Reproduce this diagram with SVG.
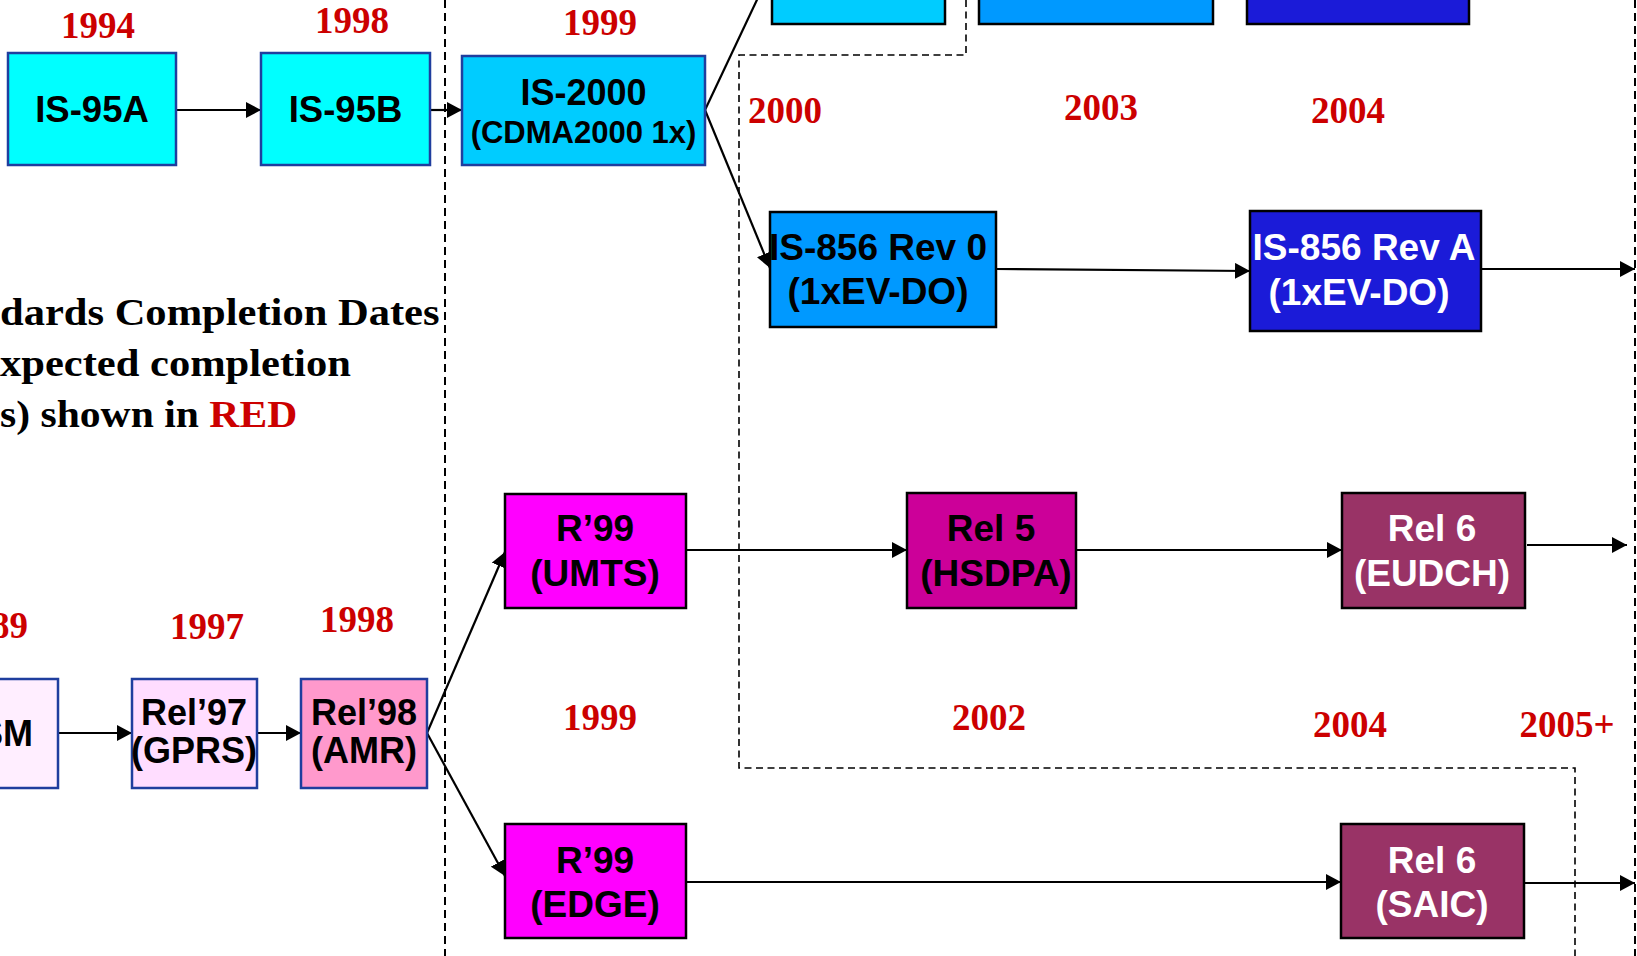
<svg xmlns="http://www.w3.org/2000/svg" width="1637" height="956" viewBox="0 0 1637 956">
<defs>
<style>
.bx{stroke:#000;stroke-width:2.5}
.bb{stroke:#1F3E9E;stroke-width:2.5}
.t{font-family:"Liberation Sans",Arial,sans-serif;font-weight:bold;text-anchor:middle;fill:#000}
.w{fill:#fff}
.yr{font-family:"Liberation Serif","Times New Roman",serif;font-weight:bold;font-size:37px;fill:#CC0000;text-anchor:middle}
.lg{font-family:"Liberation Serif","Times New Roman",serif;font-weight:bold;font-size:37px;fill:#000}
.c{stroke:#000;stroke-width:2.2;fill:none}
.ca{stroke:#000;stroke-width:2.2;fill:none;marker-end:url(#ah)}
.d{stroke:#000;stroke-width:2;fill:none;stroke-dasharray:8 5}
.d2{stroke:#000;stroke-width:1.6;fill:none;stroke-dasharray:7 4.5}
</style>
<marker id="ah" markerUnits="userSpaceOnUse" markerWidth="15" markerHeight="16" refX="15" refY="8" orient="auto" viewBox="0 0 15 16">
<path d="M0,0 L15,8 L0,16 z" fill="#000"/>
</marker>
</defs>
<rect width="1637" height="956" fill="#fff"/>

<g id="dividers">
<path class="d" d="M445,0 V956"/>
<path class="d2" d="M966,0 V55 H739 V768 H1575 V956"/>
<path class="d" d="M1635,0 V956" stroke-dasharray="6 4"/>
</g>

<g id="legend">
<text class="lg" x="0" y="325" transform="scale(1.15,1)">dards Completion Dates</text>
<text class="lg" x="0" y="376" transform="scale(1.15,1)">xpected completion</text>
<text class="lg" x="0" y="427" transform="scale(1.125,1)">s) shown in <tspan fill="#CC0000">RED</tspan></text>
</g>

<g id="years">
<text class="yr" x="98" y="38">1994</text>
<text class="yr" x="352" y="33">1998</text>
<text class="yr" x="600" y="35">1999</text>
<text class="yr" x="785" y="123">2000</text>
<text class="yr" x="1101" y="120">2003</text>
<text class="yr" x="1348" y="123">2004</text>
<text class="yr" x="28" y="638" style="text-anchor:end">89</text>
<text class="yr" x="207" y="639">1997</text>
<text class="yr" x="357" y="632">1998</text>
<text class="yr" x="600" y="730">1999</text>
<text class="yr" x="989" y="730">2002</text>
<text class="yr" x="1350" y="737">2004</text>
<text class="yr" x="1567" y="737">2005+</text>
</g>

<g id="connectors">
<path class="ca" d="M176,110 L261,110"/>
<path class="ca" d="M430,110 L462,110"/>
<path class="ca" d="M705,110 L772,-32"/>
<path class="ca" d="M705,110 L770,268"/>
<path class="ca" d="M996,269 L1250,271"/>
<path class="ca" d="M1481,269 L1635,269"/>
<path class="ca" d="M686,550 L907,550"/>
<path class="ca" d="M1076,550 L1342,550"/>
<path class="ca" d="M1527,545 L1627,545"/>
<path class="ca" d="M58,733 L132,733"/>
<path class="ca" d="M257,733 L301,733"/>
<path class="ca" d="M427,733 L505,552"/>
<path class="ca" d="M427,733 L505,876"/>
<path class="ca" d="M686,882 L1341,882"/>
<path class="ca" d="M1524,883 L1635,883"/>
</g>

<g id="top-box-1"><rect class="bx" x="772" y="-60" width="173" height="84" fill="#00CCFF"/></g>
<g id="top-box-2"><rect class="bx" x="979" y="-60" width="234" height="84" fill="#0099FF"/></g>
<g id="top-box-3"><rect class="bx" x="1247" y="-60" width="222" height="84" fill="#1B1BD8"/></g>

<g id="is95a"><rect class="bb" x="8" y="53" width="168" height="112" fill="#00FFFF"/>
<text class="t" x="92" y="122" font-size="36.5">IS-95A</text></g>

<g id="is95b"><rect class="bb" x="261" y="53" width="169" height="112" fill="#00FFFF"/>
<text class="t" x="345.5" y="122" font-size="36.5">IS-95B</text></g>

<g id="is2000"><rect class="bb" x="462" y="56" width="243" height="109" fill="#00CCFF"/>
<text class="t" x="583.5" y="105" font-size="36">IS-2000</text>
<text class="t" x="583.5" y="143" font-size="31">(CDMA2000 1x)</text></g>

<g id="is856-rev0"><rect class="bx" x="770" y="212" width="226" height="115" fill="#0099FF"/>
<text class="t" x="878" y="260" font-size="37">IS-856 Rev 0</text>
<text class="t" x="878" y="304" font-size="37">(1xEV-DO)</text></g>

<g id="is856-revA"><rect class="bx" x="1250" y="211" width="231" height="120" fill="#1B1BD8"/>
<text class="t w" x="1364" y="260" font-size="37">IS-856 Rev A</text>
<text class="t w" x="1359" y="305" font-size="37">(1xEV-DO)</text></g>

<g id="r99-umts"><rect class="bx" x="505" y="494" width="181" height="114" fill="#FF00FF"/>
<text class="t" x="595" y="541" font-size="37">R’99</text>
<text class="t" x="595" y="586" font-size="37">(UMTS)</text></g>

<g id="rel5"><rect class="bx" x="907" y="493" width="169" height="115" fill="#CC0099"/>
<text class="t" x="991" y="541" font-size="37">Rel 5</text>
<text class="t" x="996" y="586" font-size="37">(HSDPA)</text></g>

<g id="rel6-eudch"><rect class="bx" x="1342" y="493" width="183" height="115" fill="#993366"/>
<text class="t w" x="1432" y="541" font-size="37">Rel 6</text>
<text class="t w" x="1432" y="586" font-size="37">(EUDCH)</text></g>

<g id="gsm"><rect class="bb" x="-10" y="679" width="68" height="109" fill="#FFEEFF"/>
<text class="t" x="-21" y="746" font-size="36" style="text-anchor:start">SM</text></g>

<g id="rel97"><rect class="bb" x="132" y="679" width="125" height="109" fill="#FFDDFF"/>
<text class="t" x="194" y="725" font-size="36">Rel’97</text>
<text class="t" x="194" y="763" font-size="36">(GPRS)</text></g>

<g id="rel98"><rect class="bb" x="301" y="679" width="126" height="109" fill="#FF99CC"/>
<text class="t" x="364" y="725" font-size="36">Rel’98</text>
<text class="t" x="364" y="763" font-size="36">(AMR)</text></g>

<g id="r99-edge"><rect class="bx" x="505" y="824" width="181" height="114" fill="#FF00FF"/>
<text class="t" x="595" y="873" font-size="37">R’99</text>
<text class="t" x="595" y="917" font-size="37">(EDGE)</text></g>

<g id="rel6-saic"><rect class="bx" x="1341" y="824" width="183" height="114" fill="#993366"/>
<text class="t w" x="1432" y="873" font-size="37">Rel 6</text>
<text class="t w" x="1432" y="917" font-size="37">(SAIC)</text></g>
</svg>
